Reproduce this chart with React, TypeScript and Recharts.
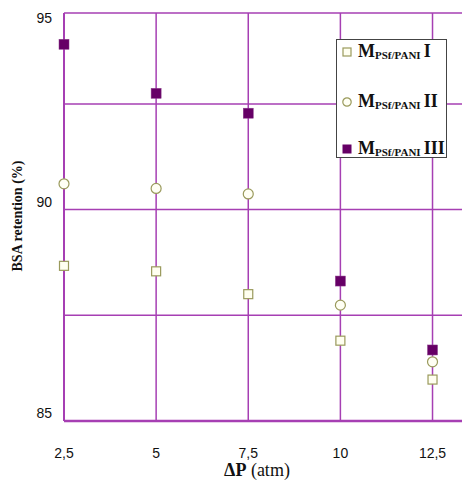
import { ScatterChart, Scatter, XAxis, YAxis, CartesianGrid, Legend, Label } from 'recharts';

const pressure = [2.5, 5, 7.5, 10, 12.5];
const retentionI = [88.67, 88.54, 88.0, 86.9, 85.98];
const retentionII = [90.61, 90.5, 90.37, 87.74, 86.4];
const retentionIII = [93.91, 92.75, 92.28, 88.31, 86.68];
const seriesNames = ['I', 'II', 'III'];
const yTicks = [85, 87.5, 90, 92.5, 94.65];
const yTickText: Record<string, string> = { '85': '85', '90': '90', '94.65': '95' };

const PURPLE = '#a63fb3';
const OLIVE = '#9a9a5c';
const DARK = '#660066';

const toPoints = (vals: number[]) => pressure.map((p, i) => ({ p, r: vals[i] }));

const SquareOpen = (props: any) => (
  <rect x={props.cx - 4.5} y={props.cy - 4.5} width={9} height={9} fill="#fffff0" stroke={OLIVE} strokeWidth={1.2} />
);
const CircleOpen = (props: any) => (
  <circle cx={props.cx} cy={props.cy} r={5} fill="#fffff4" stroke={OLIVE} strokeWidth={1.2} />
);
const SquareFill = (props: any) => (
  <rect x={props.cx - 5} y={props.cy - 5} width={10} height={10} fill={DARK} stroke="#8a3a8a" strokeWidth={0.5} />
);

const XTick = ({ x, y, payload }: any) => (
  <text x={x} y={y + 24} textAnchor="middle" dominantBaseline="central" fontFamily="Liberation Sans, Arial" fontSize={14} fill="#111">
    {String(payload.value).replace('.', ',')}
  </text>
);

const YTick = ({ x, y, payload }: any) => {
  const label = yTickText[String(payload.value)];
  if (!label) return null;
  const ty = Math.max(y - 8, 18);
  return (
    <text x={x - 4} y={ty} textAnchor="end" dominantBaseline="central" fontFamily="Liberation Sans, Arial" fontSize={14} fill="#111">
      {label}
    </text>
  );
};

const icons = [
  <rect key="a" x={1} y={1} width={8} height={8} fill="#fffff0" stroke={OLIVE} strokeWidth={1.2} />,
  <circle key="b" cx={5} cy={5} r={4.2} fill="#fffff4" stroke={OLIVE} strokeWidth={1.2} />,
  <rect key="c" x={0.5} y={0.5} width={9} height={9} fill={DARK} />,
];

const LegendBox = () => (
  <div
    style={{
      position: 'absolute',
      left: 336,
      top: 39,
      width: 109,
      height: 117,
      background: '#fff',
      border: '1.5px solid #444',
      fontFamily: 'Liberation Serif, Times New Roman, serif',
      fontWeight: 'bold',
      color: '#111',
    }}
  >
    {seriesNames.map((n, i) => (
      <div key={n} style={{ position: 'absolute', left: 5, top: [1, 51, 98][i], display: 'flex', alignItems: 'center', whiteSpace: 'nowrap' }}>
        <svg width={10} height={10} style={{ marginRight: 6 }}>{icons[i]}</svg>
        <span style={{ fontSize: 18 }}>M</span>
        <span style={{ fontSize: 11, position: 'relative', top: 3 }}>PSf/PANI</span>
        <span style={{ fontSize: 18, marginLeft: 3 }}>{n}</span>
      </div>
    ))}
  </div>
);

export default function App() {
  return (
    <div style={{ position: 'absolute', left: 0, top: 0, width: 462, height: 484, background: '#fff' }}>
      <ScatterChart width={462} height={484} margin={{ top: 13, right: 0, left: 0, bottom: 0 }}>
        <CartesianGrid stroke={PURPLE} strokeWidth={1.5} horizontalValues={yTicks} verticalValues={pressure} />
        <XAxis
          type="number"
          dataKey="p"
          domain={[2.5, 13.3]}
          ticks={pressure}
          tickLine={false}
          axisLine={{ stroke: PURPLE, strokeWidth: 2.5 }}
          tick={<XTick />}
          height={63}
        >
          <Label
            position="insideBottom"
            offset={4}
            content={({ viewBox }: any) => (
              <text x={viewBox.x + viewBox.width / 2 - 6} y={470} textAnchor="middle" dominantBaseline="central" fontFamily="Liberation Serif, Times New Roman, serif" fontSize={18} fill="#111">
                <tspan fontWeight="bold">ΔP</tspan>
                <tspan> (atm)</tspan>
              </text>
            )}
          />
        </XAxis>
        <YAxis
          type="number"
          dataKey="r"
          domain={[85, 94.65]}
          ticks={yTicks}
          tickLine={false}
          axisLine={{ stroke: PURPLE, strokeWidth: 2 }}
          tick={<YTick />}
          width={64}
        >
          <Label
            content={() => (
              <text x={17} y={216} transform="rotate(-90 17 216)" textAnchor="middle" dominantBaseline="central" fontFamily="Liberation Serif, Times New Roman, serif" fontWeight="bold" fontSize={14} fill="#111">
                BSA retention (%)
              </text>
            )}
          />
        </YAxis>
        <Scatter name="I" data={toPoints(retentionI)} shape={SquareOpen} isAnimationActive={false} />
        <Scatter name="II" data={toPoints(retentionII)} shape={CircleOpen} isAnimationActive={false} />
        <Scatter name="III" data={toPoints(retentionIII)} shape={SquareFill} isAnimationActive={false} />
        <Legend content={() => null} />
      </ScatterChart>
      <LegendBox />
    </div>
  );
}
